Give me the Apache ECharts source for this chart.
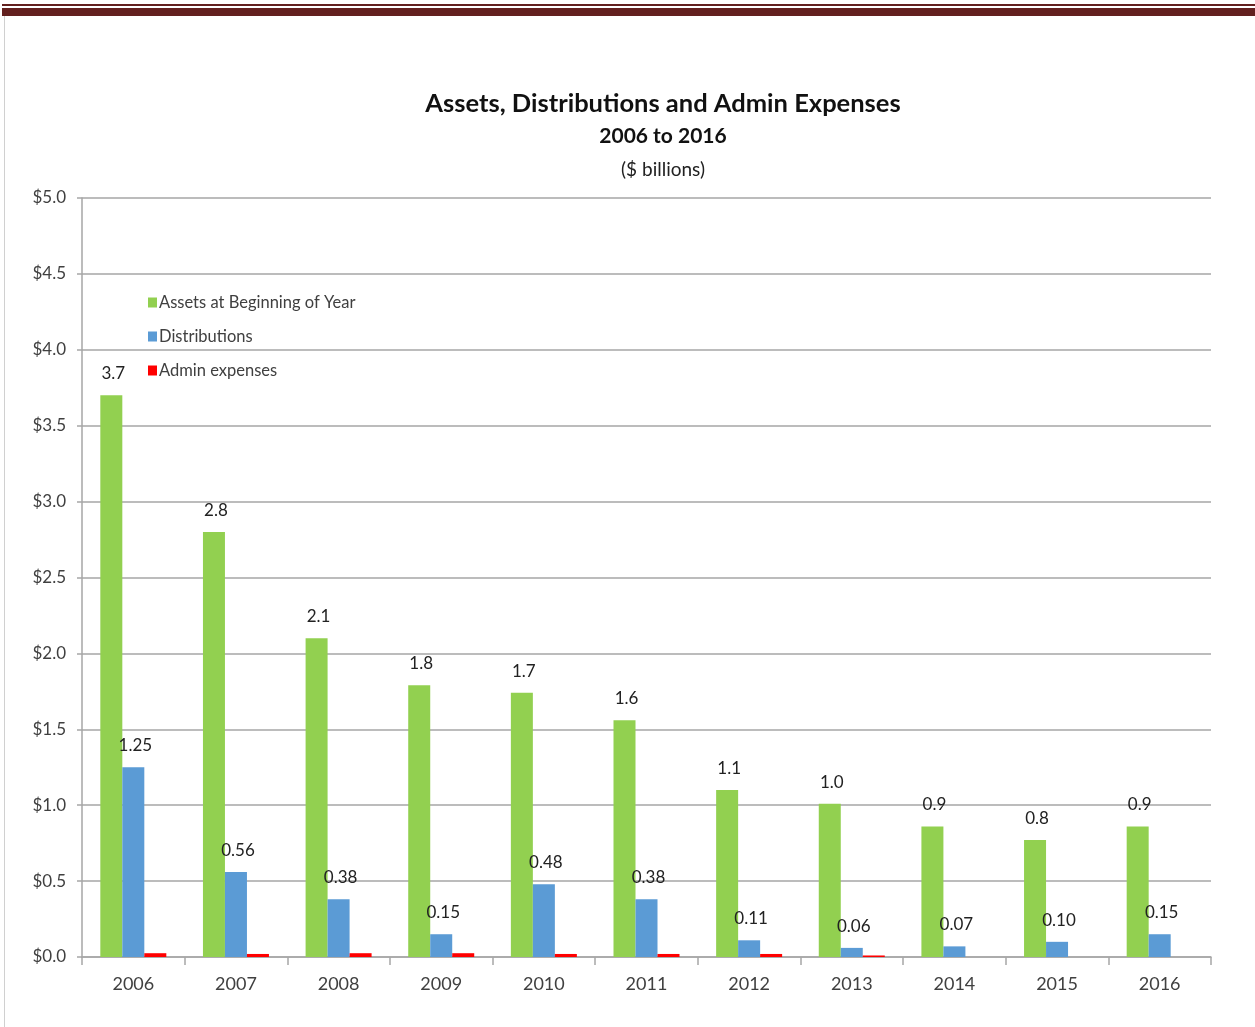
<!DOCTYPE html>
<html>
<head>
<meta charset="utf-8">
<script src="https://cdn.jsdelivr.net/npm/echarts@6/dist/echarts.min.js"></script>
<style>
    html,body{margin:0;padding:0;background:#fff;}
    #top1{position:absolute;left:2px;top:4px;width:1253px;height:2px;background:#63201f;}
    #top2{position:absolute;left:2px;top:8px;width:1253px;height:8px;background:#63201f;}
    #side{position:absolute;left:4px;top:16px;width:1px;height:1011px;background:#d0d0d0;}
    #container{position:absolute;left:0;top:0;width:1255px;height:1027px;}
</style>
</head>
<body>
<div id="container"></div>
<div id="top1"></div>
<div id="top2"></div>
<div id="side"></div>
<script>
    var years = ['2006','2007','2008','2009','2010','2011','2012','2013','2014','2015','2016'];
    var assets = [3.70, 2.80, 2.10, 1.79, 1.74, 1.56, 1.10, 1.01, 0.86, 0.77, 0.86];
    var distributions = [1.25, 0.56, 0.38, 0.15, 0.48, 0.38, 0.11, 0.06, 0.07, 0.10, 0.15];
    var adminExp = [0.025, 0.02, 0.025, 0.025, 0.02, 0.02, 0.02, 0.01, 0, 0, 0];

    var font = 'Lato, "Open Sans", sans-serif';
    var txt = '#404040', gridCol = '#a6a6a6';

    var myChart = echarts.init(document.getElementById('container'));
    var option = {
        backgroundColor: 'transparent',
        textStyle: {fontFamily: font},
        title: [
            {text: 'Assets, Distributions and Admin Expenses', left: 658, top: 86, textAlign: 'center',
                textStyle: {fontFamily: font, fontSize: 25.5, fontWeight: 'bold', color: '#111'}},
            {text: '2006 to 2016', left: 658, top: 121, textAlign: 'center',
                textStyle: {fontFamily: font, fontSize: 21, fontWeight: 'bold', color: '#111'}},
            {text: '($ billions)', left: 658, top: 155, textAlign: 'center',
                textStyle: {fontFamily: font, fontSize: 19, fontWeight: 'normal', color: '#222'}}
        ],
        legend: {
            orient: 'vertical',
            left: 143,
            top: 289,
            itemWidth: 9,
            itemHeight: 10,
            itemGap: 17,
            icon: 'rect',
            textStyle: {fontFamily: font, fontSize: 16.5, color: txt, padding: [0, 0, 0, -3]},
            data: ['Assets at Beginning of Year', 'Distributions', 'Admin expenses']
        },
        grid: {left: 82, right: 44, top: 198, bottom: 70, containLabel: false},
        xAxis: {
            type: 'category',
            data: years,
            axisLine: {lineStyle: {color: gridCol, width: 1.5}},
            axisTick: {show: true, alignWithLabel: false, length: 8, lineStyle: {color: gridCol, width: 1.5}},
            axisLabel: {fontFamily: font, fontSize: 18, color: txt, margin: 18}
        },
        yAxis: {
            type: 'value',
            min: 0,
            max: 5,
            interval: 0.5,
            axisLine: {show: true, lineStyle: {color: gridCol, width: 1.5}},
            axisTick: {show: true, length: 5, lineStyle: {color: gridCol, width: 1.5}},
            splitLine: {lineStyle: {color: gridCol, width: 1.5}},
            axisLabel: {
                fontFamily: font, fontSize: 17, color: txt, margin: 16,
                formatter: function (v) { return '$' + v.toFixed(1); }
            }
        },
        series: [
            {
                name: 'Assets at Beginning of Year',
                type: 'bar',
                barWidth: 22,
                barGap: '0%',
                data: assets,
                itemStyle: {color: '#92d050'},
                label: {
                    show: true, position: 'top', distance: 13, offset: [2, 0],
                    fontFamily: font, fontSize: 17, color: '#222',
                    formatter: function (p) { return p.value.toFixed(1); }
                }
            },
            {
                name: 'Distributions',
                type: 'bar',
                barWidth: 22,
                barGap: '0%',
                data: distributions,
                itemStyle: {color: '#5b9bd5'},
                label: {
                    show: true, position: 'top', distance: 13, offset: [2, 0],
                    fontFamily: font, fontSize: 17, color: '#222',
                    formatter: function (p) { return p.value.toFixed(2); }
                }
            },
            {
                name: 'Admin expenses',
                type: 'bar',
                barWidth: 22,
                barGap: '0%',
                data: adminExp,
                itemStyle: {color: '#ff0000'}
            }
        ]
    };
    myChart.setOption(option);
</script>
</body>
</html>
